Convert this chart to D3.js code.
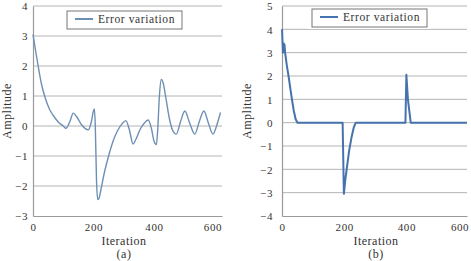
<!DOCTYPE html>
<html>
<head>
<meta charset="utf-8">
<script src="https://cdn.jsdelivr.net/npm/d3@7"></script>
<style>
  body { margin: 0; background: #fff; }
  text { font-family: "Liberation Serif", "DejaVu Serif", serif; fill: #333; }
</style>
</head>
<body>
<div id="chart"></div>
<script>
var width = 471;
var height = 261;

// panel (a) error curve
var iterA = [0, 8, 17, 28, 40, 55, 67, 85, 100, 109, 122, 133, 145, 160, 172, 183, 192, 200, 203, 206, 210, 214, 218,
    225, 235, 250, 265, 280, 295, 307, 318, 331, 340, 355, 370, 381, 392, 400, 408, 412, 418, 424, 430, 440, 450, 462,
    474, 488, 502, 518, 535, 550, 565, 580, 595, 610, 620];
var errA = [3.05, 2.55, 2.0, 1.4, 0.95, 0.55, 0.35, 0.12, 0.0, -0.08, 0.15, 0.43, 0.3, 0.05, -0.08, -0.13, 0.1, 0.5, 0.57, 0, -1.8, -2.45, -2.42,
    -2.1, -1.6, -1.0, -0.5, -0.15, 0.08, 0.18, -0.1, -0.6, -0.45, -0.1, 0.12, 0.2, -0.1, -0.5, -0.62, -0.2, 1.0, 1.55, 1.45, 0.9, 0.3, -0.15,
    -0.27, 0.15, 0.5, 0.1, -0.27, 0.15, 0.5, 0.1, -0.27, 0.1, 0.45];

// panel (b) error curve
var iterB = [0, 3, 5, 8, 10, 15, 21, 27, 32, 38, 44, 50, 195, 199, 204, 209, 216, 224, 231, 237, 397, 400, 405, 414, 595];
var errB = [4.0, 3.0, 3.4, 3.35, 3.0, 2.5, 2.0, 1.45, 1.0, 0.5, 0.15, 0.0, 0.0, -3.05, -2.4, -1.9, -1.2, -0.6, -0.2, 0.0, 0.0, 2.05, 1.0, 0.0, 0.0];

var xTicks = [0, 200, 400, 600];
var yTicksA = [-3, -2, -1, 0, 1, 2, 3, 4];
var yTicksB = [-4, -3, -2, -1, 0, 1, 2, 3, 4, 5];

var svg = d3.select("#chart")
    .append("svg")
    .attr("width", width)
    .attr("height", height);

function drawPanel(p) {
    var x = d3.scaleLinear().domain(p.xDomain).range([p.left, p.right]);
    var y = d3.scaleLinear().domain(d3.extent(p.yTicks)).range([p.bottom, p.top]);
    var g = svg.append("g");

    // gridlines
    g.selectAll(".grid").data(p.yTicks.slice(1)).enter()
        .append("line")
        .attr("x1", p.left).attr("x2", p.right)
        .attr("y1", d => y(d)).attr("y2", d => y(d))
        .attr("stroke", "#b4b4b4").attr("stroke-width", 1);

    // legend background (hides gridline behind it)
    g.append("rect")
        .attr("x", p.legX - p.legPad).attr("y", p.legY - 2)
        .attr("width", 115 + 2 * p.legPad).attr("height", 22)
        .attr("fill", "#fff");

    // axes
    var xAxis = d3.axisBottom(x).tickValues(xTicks).tickSize(0).tickPadding(7).tickFormat(d3.format("d"));
    var gx = g.append("g").attr("transform", "translate(0," + p.bottom + ")").call(xAxis);
    var yAxis = d3.axisLeft(y).tickValues(p.yTicks).tickSize(0).tickPadding(p.yPad).tickFormat(d3.format("d"));
    var gy = g.append("g").attr("transform", "translate(" + p.left + ",0)").call(yAxis);
    [gx, gy].forEach(function (a) {
        a.select(".domain").attr("stroke", "#999").attr("stroke-width", 1.2);
        a.selectAll("text")
            .style("font-family", "Liberation Serif, serif")
            .attr("font-size", 11).attr("fill", "#333")
            .style("letter-spacing", "0.6px");
    });
    gy.selectAll("text").attr("dy", "0.36em");
    // keep last x label inside the picture
    gx.selectAll(".tick").filter(d => d === 600).select("text").attr("dx", p.lastShift);

    // error line
    var line = d3.line()
        .x((d, i) => x(p.iters[i]))
        .y(d => y(d))
        .curve(p.curve);
    g.append("path")
        .datum(p.errs)
        .attr("d", line)
        .attr("fill", "none")
        .attr("stroke", p.color)
        .attr("stroke-width", p.lw)
        .attr("stroke-linejoin", "round");

    // legend
    g.append("rect")
        .attr("x", p.legX).attr("y", p.legY)
        .attr("width", 115).attr("height", 18)
        .attr("fill", "#fff").attr("stroke", "#777").attr("stroke-width", 1);
    g.append("line")
        .attr("x1", p.legX + 8).attr("x2", p.legX + 26)
        .attr("y1", p.legY + 8).attr("y2", p.legY + 8)
        .attr("stroke", p.color).attr("stroke-width", 2);
    g.append("text")
        .attr("x", p.legX + 31).attr("y", p.legY + 12)
        .attr("font-size", 11.5).style("letter-spacing", "0.6px")
        .text("Error variation");

    // axis titles
    g.append("text")
        .attr("x", p.titleCx).attr("y", 245)
        .attr("text-anchor", "middle")
        .attr("font-size", 12).style("letter-spacing", "0.5px")
        .text("Iteration");
    g.append("text")
        .attr("x", p.titleCx).attr("y", 258)
        .attr("text-anchor", "middle")
        .attr("font-size", 12).style("letter-spacing", "0.5px")
        .text(p.label);
    g.append("text")
        .attr("transform", "translate(" + p.titleX + ",111) rotate(-90)")
        .attr("text-anchor", "middle")
        .attr("font-size", 12).style("letter-spacing", "0.5px")
        .text("Amplitude");
}

drawPanel({
    left: 33, right: 222, top: 6, bottom: 216,
    xDomain: [0, 625], yTicks: yTicksA, yPad: 5,
    iters: iterA, errs: errA, curve: d3.curveMonotoneX,
    color: "#6e8fb4", lw: 1.4,
    legX: 67, legY: 11, legPad: 0,
    titleX: 10.5, titleCx: 124, label: "(a)", lastShift: -2
});

drawPanel({
    left: 282, right: 467, top: 6, bottom: 216,
    xDomain: [0, 595], yTicks: yTicksB, yPad: 9,
    iters: iterB, errs: errB, curve: d3.curveLinear,
    color: "#4672ad", lw: 2,
    legX: 312, legY: 9, legPad: 4,
    titleX: 251, titleCx: 376, label: "(b)", lastShift: -9
});
</script>
</body>
</html>
